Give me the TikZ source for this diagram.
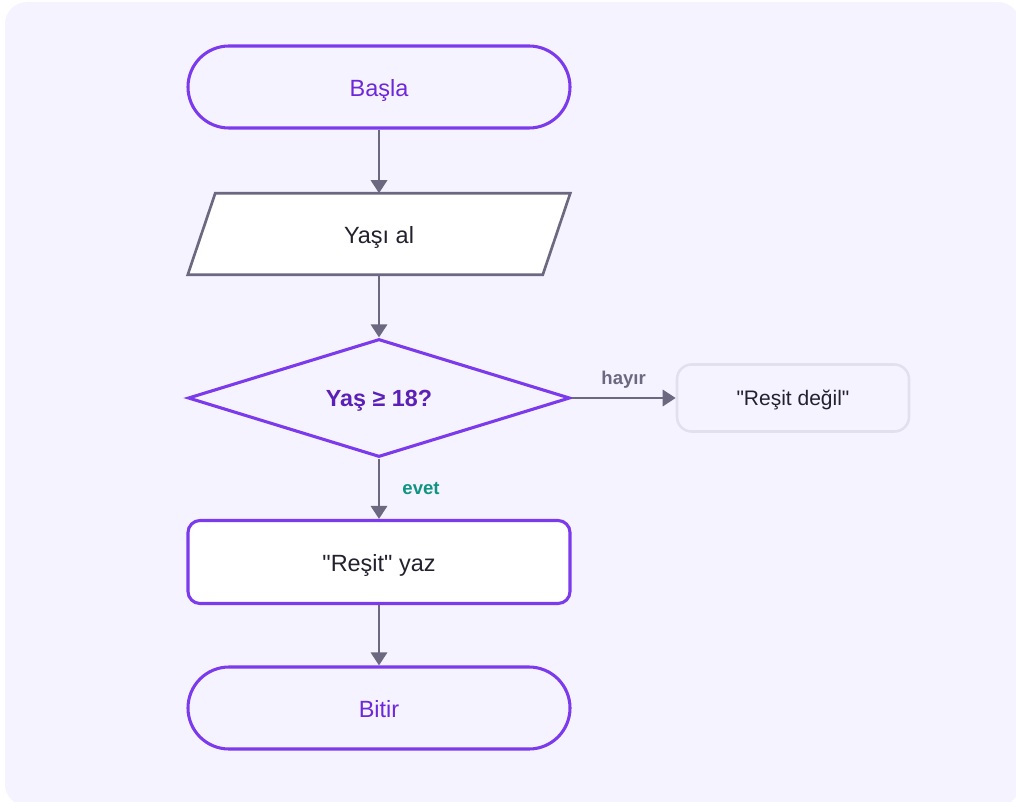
\documentclass[tikz,border=0pt]{standalone}
\usepackage{fontspec}
\setmainfont{Liberation Sans}[Ligatures=TeXOff]
\usetikzlibrary{arrows.meta,shapes.geometric}

\definecolor{canvas}{HTML}{F5F3FF}
\definecolor{violetline}{HTML}{7C3AED}
\definecolor{violettext}{HTML}{6D28D9}
\definecolor{violetdeep}{HTML}{5B21B6}
\definecolor{flowgray}{HTML}{6B6880}
\definecolor{softedge}{HTML}{E2E0EC}
\definecolor{inktext}{HTML}{23212E}
\definecolor{yesgreen}{HTML}{0F9484}

\begin{document}
\begin{tikzpicture}[x=0.75pt,y=-0.75pt,
  bodyfont/.style={font=\fontsize{17.6}{21}\selectfont},
  shapetext/.style={bodyfont, text height=13.8pt, text depth=0pt, inner sep=0pt},
  terminal/.style={rectangle, rounded corners=30.75pt, draw=violetline, line width=2.3pt,
    fill=canvas, minimum width=286.5pt, minimum height=61.5pt, shapetext, text=violettext},
  iobox/.style={rectangle, minimum width=286.5pt, minimum height=60.75pt, inner sep=0pt},
  ioedge/.style={draw=flowgray, fill=white, line width=2pt, line join=miter},
  decision/.style={diamond, aspect=3.2, draw=violetline, line width=2.3pt, fill=canvas,
    minimum width=286.5pt, minimum height=88.5pt, shapetext, text height=13pt, text=violetdeep,
    font=\fontsize{17.5}{21}\selectfont\bfseries},
  process/.style={rectangle, rounded corners=9pt, draw=violetline, line width=2.3pt,
    fill=white, minimum width=286.5pt, minimum height=62.25pt, shapetext, text=inktext},
  output/.style={rectangle, rounded corners=11pt, draw=softedge, line width=1.9pt,
    fill=canvas, minimum width=174pt, minimum height=50.25pt, shapetext, text height=10.5pt,
    text=inktext, font=\fontsize{15.75}{19}\selectfont},
  flow/.style={draw=flowgray, line width=2.2pt, -{Triangle[length=9.75pt,width=12pt]}},
  edgelabel/.style={font=\fontsize{13.9}{16}\selectfont\bfseries, inner sep=0pt}
]
  % page frame
  \useasboundingbox (0,0) rectangle (1016,802);
  \clip (0,0) rectangle (1016,802);
  \fill[canvas, rounded corners=16.5pt] (5,2) rectangle (1020,806);

  % start
  \node[terminal] (start) at (379,87) {Başla};

  % input: parallelogram drawn round an invisible box
  \node[iobox] (input) at (379,234) {};
  \path[ioedge] ([xshift=20.625pt]input.north west) -- (input.north east)
    -- ([xshift=-20.625pt]input.south east) -- (input.south west) -- cycle;
  \node[shapetext, text=inktext] (inputtext) at (input) {Yaşı al};

  % decision
  \node[decision] (check) at (379,398) {Yaş ≥ 18?};

  % outputs
  \node[output] (minor) at (793,398) {"Reşit değil"};
  \node[process] (adult) at (379,562) {"Reşit" yaz};

  % end
  \node[terminal] (stop) at (379,708) {Bitir};

  % connectors
  \draw[flow] (start.south) -- (input.north);
  \draw[flow] (input.south) -- (check.north);
  \draw[flow] (check.east) -- node[edgelabel, text=flowgray, yshift=13.5pt] {hayır} (minor.west);
  \draw[flow] (check.south) -- node[edgelabel, text=yesgreen, anchor=west, xshift=16.5pt] {evet} (adult.north);
  \draw[flow] (adult.south) -- (stop.north);
\end{tikzpicture}
\end{document}
